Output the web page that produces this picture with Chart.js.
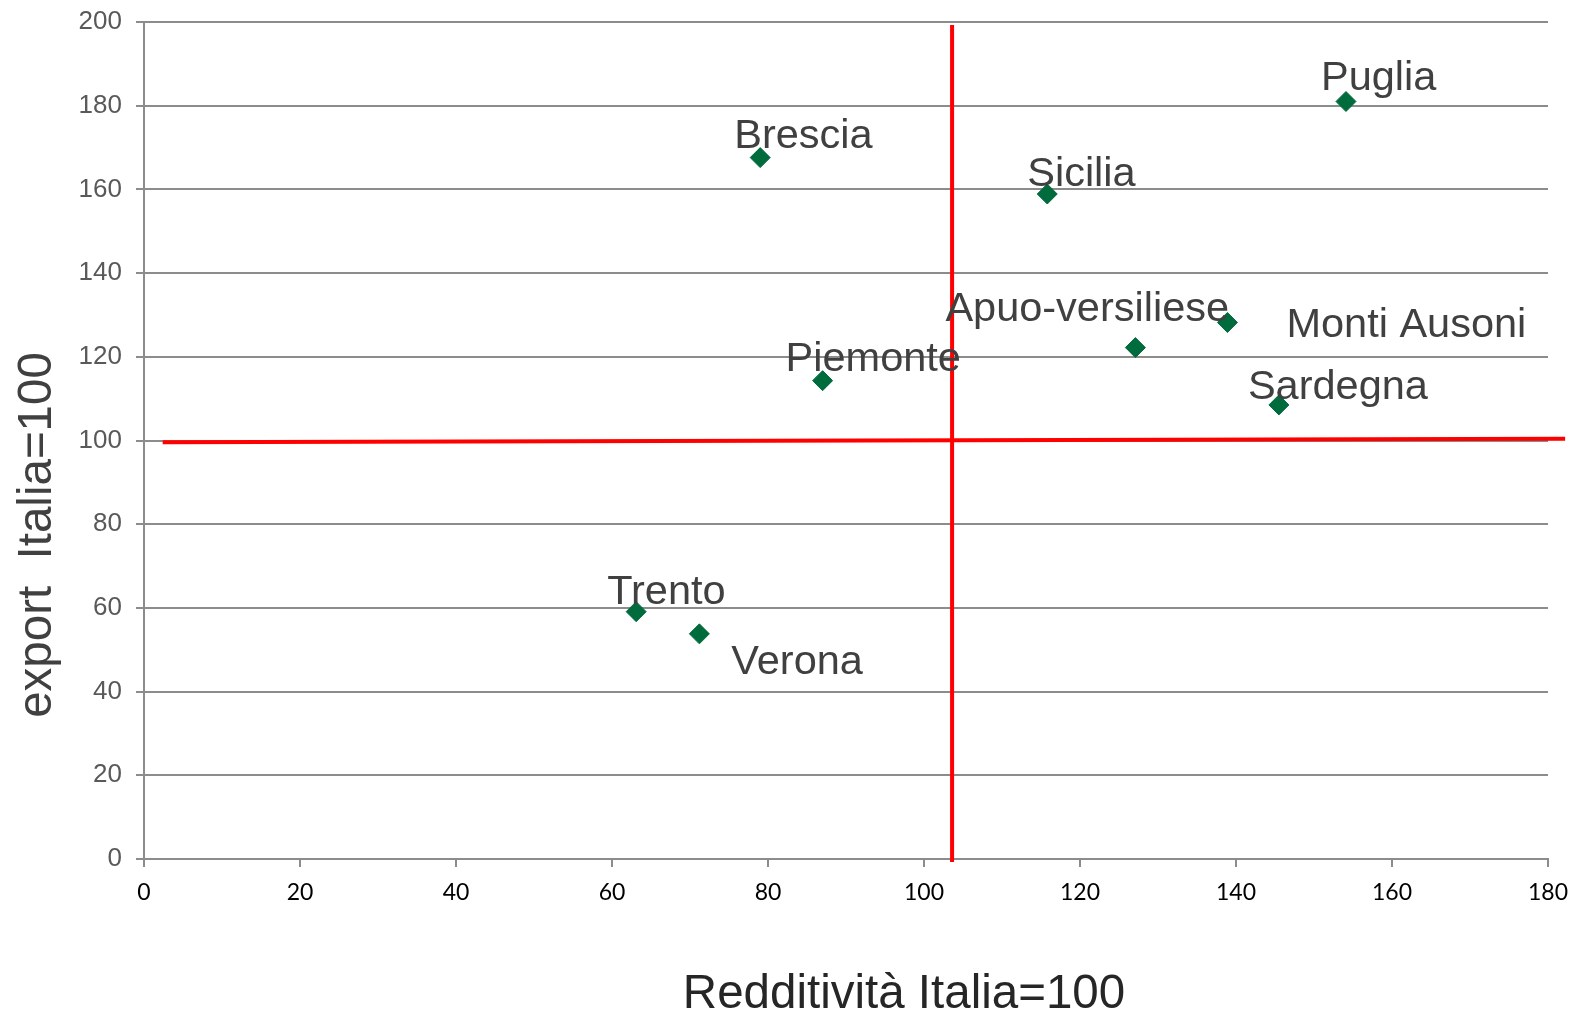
<!DOCTYPE html>
<html lang="it">
<head>
    <meta charset="UTF-8">
    <title>Redditività ed export</title>
    <style>
        body { margin: 0; background: #fff; }
        #wrap { width: 1575px; height: 1019px; }
    </style>
</head>
<body>
    <div id="wrap"><canvas id="myChart"></canvas></div>

    <script src="https://cdn.jsdelivr.net/npm/chart.js"></script>
    <script>
        // Points (x = redditività, y = export, Italia = 100)
        const names = ['Puglia', 'Brescia', 'Sicilia', 'Apuo-versiliese', 'Monti Ausoni', 'Piemonte', 'Sardegna', 'Trento', 'Verona'];
        const redditivita = [154.1, 79.0, 115.8, 127.1, 138.9, 87.0, 145.5, 63.1, 71.2];
        const exportVals = [181.0, 167.6, 158.9, 122.2, 128.2, 114.3, 108.5, 59.1, 53.8];

        // red reference lines (hand drawn in the original, so slightly off)
        const vLineX = [103.6, 103.6];
        const vLineY = [199.3, -0.7];
        const hLineX = [2.4, 182.2];
        const hLineY = [99.6, 100.4];

        const xTicks = [0, 20, 40, 60, 80, 100, 120, 140, 160, 180];
        const yTicks = [0, 20, 40, 60, 80, 100, 120, 140, 160, 180, 200];

        // label offsets from their marker, in pixels (left edge, vertical middle)
        const labelOffsets = [[-25, -23], [-26, -21], [-20, -19], [-190, -38], [59, 3], [-37, -21], [-31, -17], [-29, -19], [32, 29]];

        const gridGray = '#8c8c8c';

        const pointLabels = {
            id: 'pointLabels',
            afterDatasetsDraw(chart) {
                const meta = chart.getDatasetMeta(0);
                const ctx = chart.ctx;
                ctx.save();
                ctx.font = '41.5px "Liberation Sans", Arial, sans-serif';
                ctx.fillStyle = '#404040';
                ctx.textAlign = 'left';
                ctx.textBaseline = 'middle';
                meta.data.forEach((pt, i) => {
                    ctx.fillText(names[i], pt.x + labelOffsets[i][0], pt.y + labelOffsets[i][1]);
                });
                ctx.restore();
            }
        };

        const axisTitles = {
            id: 'axisTitles',
            afterDraw(chart) {
                const ctx = chart.ctx;
                const area = chart.chartArea;
                ctx.save();
                ctx.font = '47.5px "Liberation Sans", Arial, sans-serif';
                ctx.textAlign = 'center';
                ctx.textBaseline = 'middle';
                ctx.fillStyle = '#262626';
                ctx.fillText('Redditività Italia=100', area.left + 760, area.bottom + 136);
                ctx.fillStyle = '#404040';
                ctx.translate(38, area.top + 513);
                ctx.rotate(-Math.PI / 2);
                ctx.fillText('export  Italia=100', 0, 0);
                ctx.restore();
            }
        };

        const ctx = document.getElementById('myChart').getContext('2d');
        new Chart(ctx, {
            type: 'scatter',
            data: {
                datasets: [{
                    label: 'Territori',
                    data: names.map((n, i) => ({ x: redditivita[i], y: exportVals[i] })),
                    pointStyle: 'rectRot',
                    pointRadius: 10,
                    backgroundColor: '#006b3c',
                    borderColor: '#006b3c',
                    borderWidth: 1
                }, {
                    label: 'media redditività',
                    data: vLineX.map((x, i) => ({ x: x, y: vLineY[i] })),
                    showLine: true,
                    pointRadius: 0,
                    borderColor: '#ff0000',
                    borderWidth: 4,
                    clip: false
                }, {
                    label: 'media export',
                    data: hLineX.map((x, i) => ({ x: x, y: hLineY[i] })),
                    showLine: true,
                    pointRadius: 0,
                    borderColor: '#ff0000',
                    borderWidth: 4,
                    clip: false
                }]
            },
            options: {
                responsive: true,
                maintainAspectRatio: false,
                animation: false,
                layout: { padding: { top: 22, right: 27, left: 0, bottom: 0 } },
                scales: {
                    x: {
                        type: 'linear',
                        min: 0,
                        max: 180,
                        afterFit: (scale) => {
                            scale.height = 160;
                            scale.paddingLeft = 0;
                            scale.paddingRight = 0;
                        },
                        afterBuildTicks: (scale) => { scale.ticks = xTicks.map(v => ({ value: v })); },
                        ticks: {
                            color: '#000',
                            padding: 12,
                            maxRotation: 0,
                            font: { family: 'Lato, "Open Sans", sans-serif', size: 23 }
                        },
                        grid: {
                            drawOnChartArea: false,
                            drawTicks: true,
                            tickLength: 8,
                            color: gridGray,
                            lineWidth: 2
                        },
                        border: { display: true, color: gridGray, width: 2 }
                    },
                    y: {
                        type: 'linear',
                        min: 0,
                        max: 200,
                        afterFit: (scale) => {
                            scale.width = 144;
                            scale.paddingTop = 0;
                            scale.paddingBottom = 0;
                        },
                        afterBuildTicks: (scale) => { scale.ticks = yTicks.map(v => ({ value: v })); },
                        ticks: {
                            color: '#595959',
                            padding: 14,
                            font: { family: '"Liberation Sans", Arial, sans-serif', size: 26 }
                        },
                        grid: {
                            color: gridGray,
                            lineWidth: 2,
                            tickLength: 8
                        },
                        border: { display: true, color: gridGray, width: 2 }
                    }
                },
                plugins: {
                    legend: { display: false },
                    tooltip: { enabled: false }
                }
            },
            plugins: [pointLabels, axisTitles]
        });
    </script>
</body>
</html>
